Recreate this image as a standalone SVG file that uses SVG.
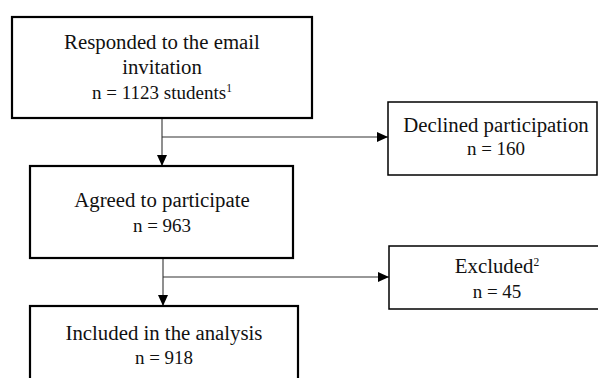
<svg xmlns="http://www.w3.org/2000/svg" width="598" height="378" viewBox="0 0 598 378">
<style>
.box{fill:#fff;stroke:#000}
.thick{stroke-width:2.2}
.thin{stroke-width:1.5}
.t{font-family:"Liberation Serif","Times New Roman",serif;fill:#111;text-anchor:middle}
.h{font-size:20.8px}
.n{font-size:19px}
.sup{font-size:11.5px}
.c{stroke:#333;stroke-width:1.1;fill:none}
</style>
<defs>
<marker id="ah" markerWidth="11" markerHeight="11" refX="11" refY="5.5" orient="auto" markerUnits="userSpaceOnUse">
<path d="M0,0.5 L11,5.5 L0,10.5 Z" fill="#000"/>
</marker>
</defs>
<rect width="598" height="378" fill="#fff"/>
<g id="connectors">
<line class="c" x1="162" y1="118" x2="162" y2="166" marker-end="url(#ah)"/>
<line class="c" x1="162" y1="137" x2="388" y2="137" marker-end="url(#ah)"/>
<line class="c" x1="163" y1="258" x2="163" y2="306" marker-end="url(#ah)"/>
<line class="c" x1="163" y1="277" x2="389" y2="277" marker-end="url(#ah)"/>
</g>
<g id="responded">
<rect class="box thick" x="12" y="17" width="300" height="101"/>
<text class="t h" x="162" y="49">Responded to the email</text>
<text class="t h" x="162" y="74">invitation</text>
<text class="t n" x="162" y="99">n = 1123 students<tspan class="sup" dy="-7">1</tspan></text>
</g>
<g id="declined">
<rect class="box thin" x="388" y="102" width="209" height="73"/>
<text class="t h" x="496" y="132">Declined participation</text>
<text class="t n" x="496" y="155">n = 160</text>
</g>
<g id="agreed">
<rect class="box thick" x="30" y="166" width="263" height="92"/>
<text class="t h" x="162" y="207">Agreed to participate</text>
<text class="t n" x="162" y="232">n = 963</text>
</g>
<g id="excluded">
<rect class="box thin" x="389" y="246" width="215" height="63"/>
<text class="t h" x="497" y="273">Excluded<tspan class="sup" dy="-7">2</tspan></text>
<text class="t n" x="497" y="298">n = 45</text>
</g>
<g id="included">
<rect class="box thick" x="30" y="306" width="268" height="90"/>
<text class="t h" x="164" y="340">Included in the analysis</text>
<text class="t n" x="164" y="364">n = 918</text>
</g>
</svg>
